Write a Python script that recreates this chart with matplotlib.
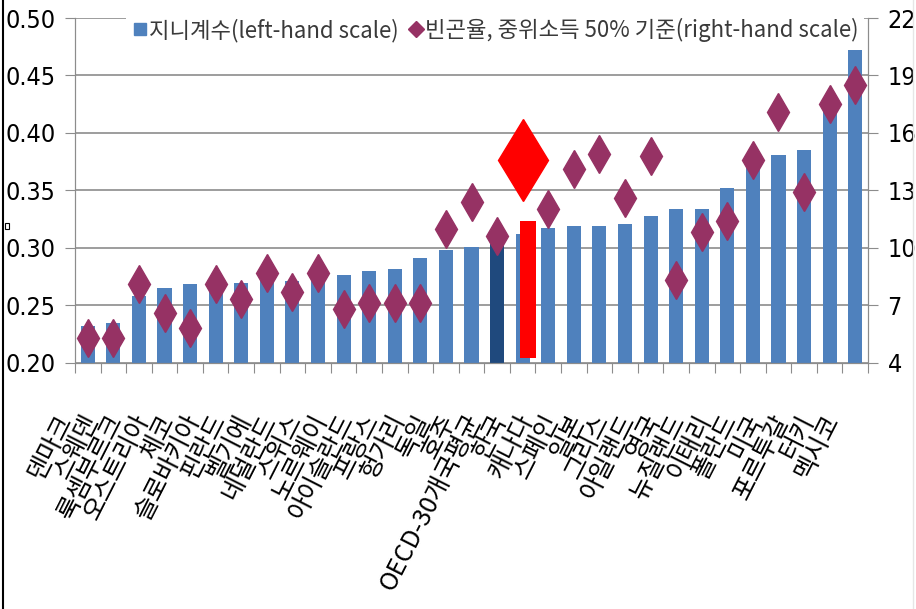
import numpy as np
import matplotlib.pyplot as plt
import matplotlib.transforms as mtransforms
from matplotlib.lines import Line2D
from matplotlib.patches import Rectangle

plt.rcParams['font.family'] = ['Noto Sans CJK KR', 'DejaVu Sans']

# 국가별 지니계수와 빈곤율 (OECD 2000년대 중반)
countries = ['덴마크', '스웨덴', '룩셈부르크', '오스트리아', '체코', '슬로바키아', '핀란드',
             '벨기에', '네덜란드', '스위스', '노르웨이', '아이슬란드', '프랑스', '헝가리',
             '독일', '호주', 'OECD-30개국평균', '한국', '캐나다', '스페인', '일본', '그리스',
             '아일랜드', '영국', '뉴질랜드', '이태리', '폴란드', '미국', '포르투갈', '터키', '멕시코']
gini = [0.232, 0.234, 0.258, 0.265, 0.268, 0.268, 0.269, 0.271, 0.271, 0.276, 0.276,
        0.280, 0.281, 0.291, 0.298, 0.301, 0.311, 0.312, 0.317, 0.319, 0.319, 0.321,
        0.328, 0.334, 0.334, 0.352, 0.375, 0.381, 0.385, 0.430, 0.472]
poverty = [5.3, 5.3, 8.1, 6.6, 5.8, 8.1, 7.3, 8.7, 7.7, 8.7, 6.8, 7.1, 7.1, 7.1,
           11.0, 12.4, 10.6, 14.6, 12.0, 14.1, 14.9, 12.6, 14.8, 8.3, 10.8, 11.4,
           14.6, 17.1, 12.9, 17.5, 18.5]
korea = '한국'
korea_gini_mark = 0.323
oecd = 'OECD-30개국평균'

gini_ticks = [0.20, 0.25, 0.30, 0.35, 0.40, 0.45, 0.50]
poverty_ticks = [4, 7, 10, 13, 16, 19, 22]

blue = '#4F81BD'
navy = '#1F497D'
plum = '#963264'
grid = '#8c8c8c'
num_font = dict(family=['DejaVu Sans'], fontstretch='condensed', fontsize=18)

fig = plt.figure(figsize=(9.16, 6.09), dpi=100)
ax = fig.add_axes([75 / 916, 1 - 362.5 / 609, 793 / 916, 344.5 / 609])
ax2 = ax.twinx()

x = np.arange(len(countries))
colors = [navy if c == oecd else blue for c in countries]
ax.bar(x, gini, width=0.55, color=colors, zorder=2)

# 한국 강조 막대와 마름모
k = countries.index(korea)
ax.bar(k + 0.2, korea_gini_mark - 0.2035, bottom=0.2035, width=0.62, color='#ff0000', zorder=3)

ax2.plot(x, poverty, linestyle='none', marker='d', markersize=19.5,
         color=plum, markeredgecolor=plum)
ax2.plot([k], [poverty[k]], linestyle='none', marker='d', markersize=42,
         color='#ff0000', markeredgecolor='#ff0000')

ax.set_ylim(0.20, 0.50)
ax.set_yticks(gini_ticks)
ax.set_yticklabels(['%.2f' % v for v in gini_ticks], **num_font)
ax2.set_ylim(4, 22)
ax2.set_yticks(poverty_ticks)
ax2.set_yticklabels([str(v) for v in poverty_ticks], **num_font)

ax.set_xlim(-0.5, len(countries) - 0.5)
ax.set_xticks(np.arange(len(countries) + 1) - 0.5)
ax.set_xticklabels([])
ax.set_xticks(x, minor=True)
ax.set_xticklabels(countries, minor=True, rotation=63, ha='right', va='top',
                   rotation_mode='anchor', fontsize=18)
ax.tick_params(axis='x', which='minor', length=0, pad=0)
ax.tick_params(axis='x', which='major', length=7, color=grid)
ax.tick_params(axis='y', length=7, color=grid, pad=7)
ax2.tick_params(axis='y', length=7, color=grid, pad=7)

offset = mtransforms.ScaledTranslation(-24 / 72, -34 / 72, fig.dpi_scale_trans)
for lab in ax.get_xticklabels(minor=True):
    lab.set_transform(lab.get_transform() + offset)

ax.grid(axis='y', color=grid, linewidth=1.2, zorder=0)
ax.set_axisbelow(True)
for a in (ax, ax2):
    a.spines['top'].set_visible(False)
    for s in ('left', 'right', 'bottom'):
        a.spines[s].set_color(grid)

handles = [Line2D([], [], linestyle='none', marker='s', markersize=9, color=blue),
           Line2D([], [], linestyle='none', marker='D', markersize=8, color=plum)]
labels = ['지니계수(left-hand scale)', '빈곤율, 중위소득 50% 기준(right-hand scale)']
leg = ax2.legend(handles, labels, ncol=2, loc='center right',
                 bbox_to_anchor=(0.995, 1 - 12 / 344.5),
                 frameon=True, facecolor='white', edgecolor='none', framealpha=1,
                 fontsize=16, handletextpad=0.05, columnspacing=0.45, borderpad=0.25,
                 handlelength=0.7, borderaxespad=0)
for t in leg.get_texts():
    t.set_color('#3a3a3a')

# 테두리
fig.add_artist(Line2D([3 / 916, 3 / 916], [0, 1], color='black', linewidth=1.5))
fig.add_artist(Line2D([913 / 916, 913 / 916], [0, 1], color='#e6e6e6', linewidth=1))
fig.add_artist(Rectangle((5 / 916, 1 - 229 / 609), 4 / 916, 6 / 609, fill=False,
                         edgecolor='black', linewidth=0.8))

fig.savefig('out.png', dpi=100)
